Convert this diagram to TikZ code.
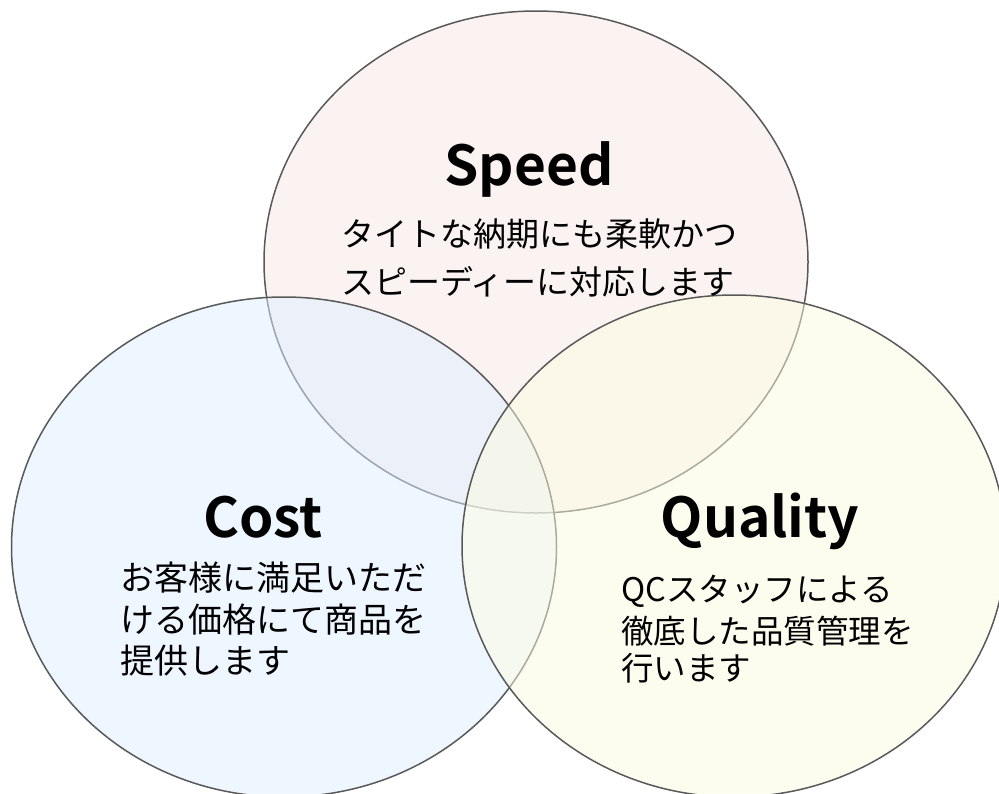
\documentclass[tikz,border=0pt]{standalone}
\usepackage{fontspec}
\setmainfont{Noto Sans CJK JP}
\newfontfamily\jpbold{Noto Sans CJK JP Bold}
\usetikzlibrary{shapes.geometric}
\definecolor{speedfill}{RGB}{247,233,231}
\definecolor{costfill}{RGB}{223,239,255}
\definecolor{qualfill}{RGB}{253,253,225}
\definecolor{edge}{RGB}{89,89,89}
\tikzset{
  venn/.style={ellipse, draw=edge, line width=1.5pt, fill opacity=0.5, inner sep=0pt, outer sep=0pt},
  titletext/.style={font=\jpbold\fontsize{55}{60}\selectfont, inner sep=0pt, anchor=base},
  bodytext/.style={inner sep=0pt, anchor=west, align=left}
}
\begin{document}
\begin{tikzpicture}[x=1pt,y=-1pt]
\clip (0,0) rectangle (999,793);
\fill[white] (0,0) rectangle (999,793);
\node (speed) [venn, fill=speedfill, minimum width=544pt, minimum height=502pt] at (536,262) {};
\node (cost) [venn, fill=costfill, minimum width=545pt, minimum height=500pt] at (284,547) {};
\node (quality) [venn, fill=qualfill, minimum width=544pt, minimum height=502pt] at (734,546) {};
\node (speedtitle) [titletext] at (529,185) {Speed};
\node (costtitle) [titletext] at (263,537) {Cost};
\node (qualtitle) [titletext] at (760,537) {Quality};
\node (speedl1) [bodytext, font=\fontsize{33}{40}\selectfont] at (341,234) {タイトな納期にも柔軟かつ};
\node (speedl2) [bodytext, font=\fontsize{33}{40}\selectfont] at (341,282) {スピーディーに対応します};
\node (costl1) [bodytext, font=\fontsize{34}{40}\selectfont] at (120,578) {お客様に満足いただ};
\node (costl2) [bodytext, font=\fontsize{34}{40}\selectfont] at (120,620) {ける価格にて商品を};
\node (costl3) [bodytext, font=\fontsize{34}{40}\selectfont] at (120,661) {提供します};
\node (quall1) [bodytext, font=\fontsize{32.5}{40}\selectfont] at (621,591) {QCスタッフによる};
\node (quall2) [bodytext, font=\fontsize{32.5}{40}\selectfont] at (621,631) {徹底した品質管理を};
\node (quall3) [bodytext, font=\fontsize{32.5}{40}\selectfont] at (621,668) {行います};
\end{tikzpicture}
\end{document}
